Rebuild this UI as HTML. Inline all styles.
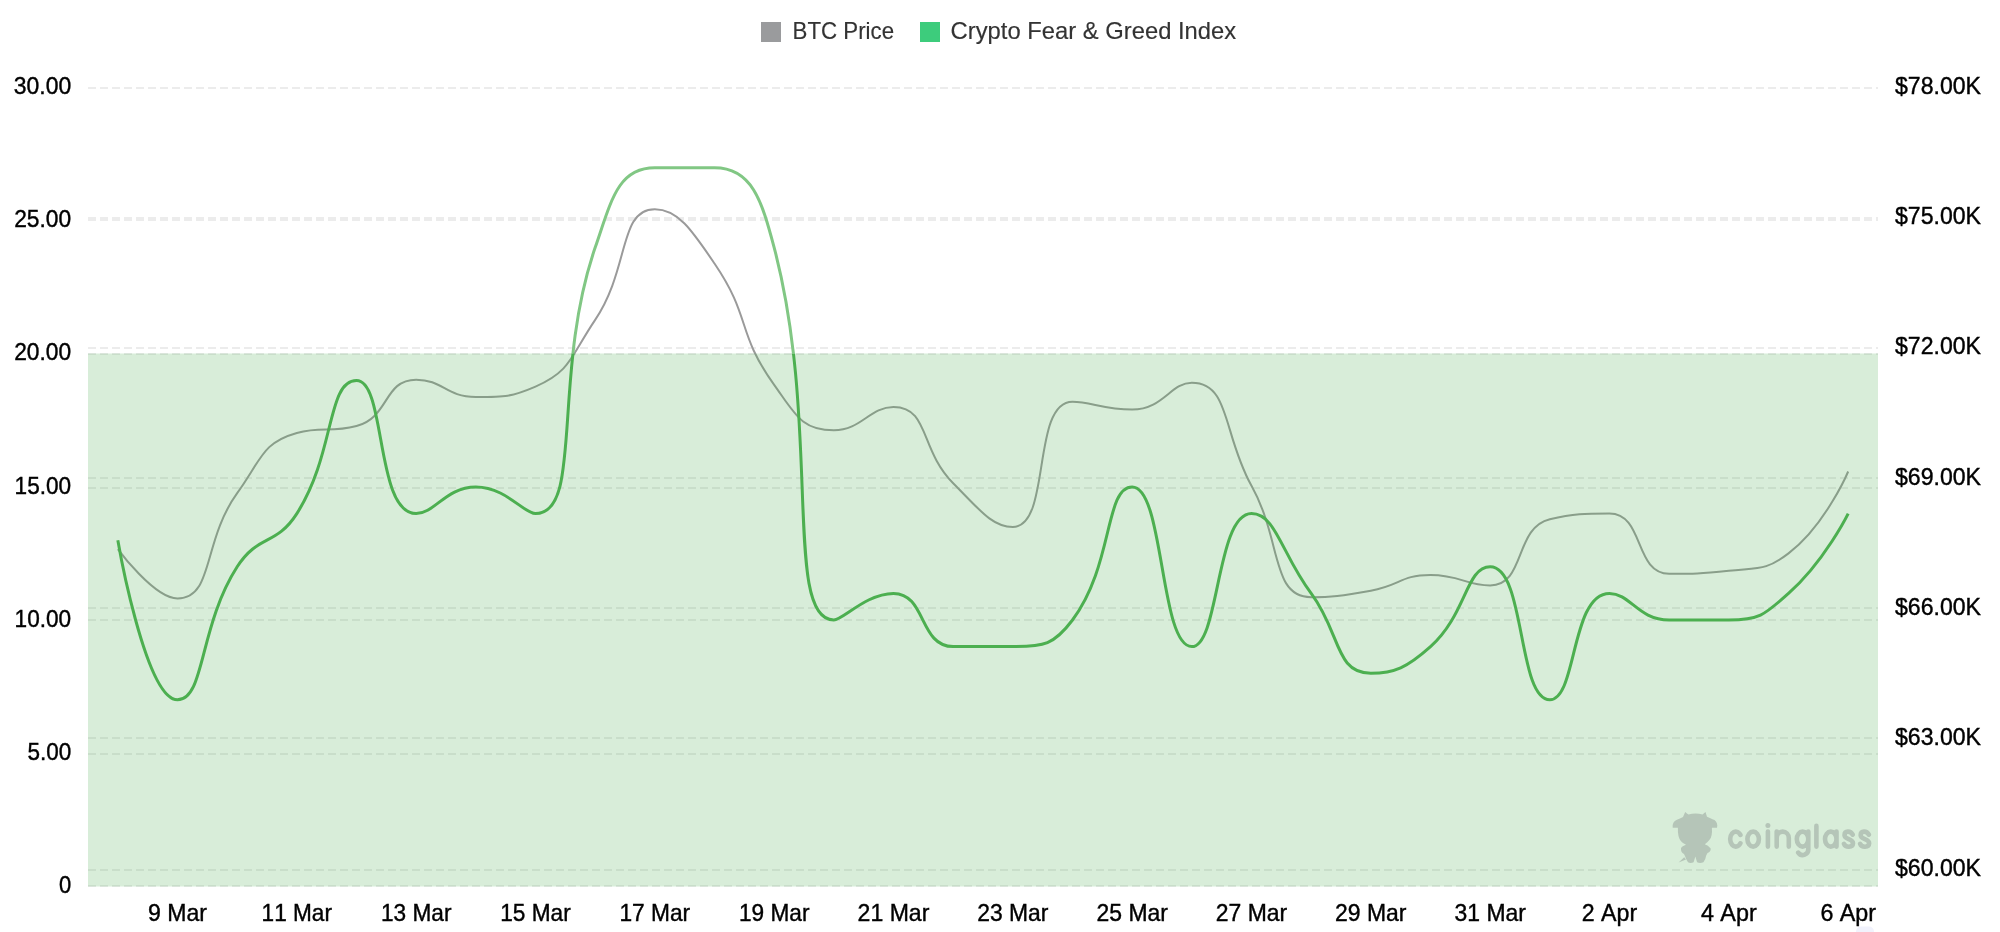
<!DOCTYPE html>
<html><head><meta charset="utf-8"><title>Crypto Fear &amp; Greed Index</title>
<style>
html,body{margin:0;padding:0;background:#fff;}
body{width:2000px;height:932px;overflow:hidden;}
svg{display:block;font-family:"Liberation Sans",sans-serif;will-change:transform;opacity:0.9999;}
text{font-kerning:none;}
</style></head><body>
<svg width="2000" height="932" viewBox="0 0 2000 932">
<defs>
<clipPath id="cin"><rect x="0" y="353.5" width="2000" height="600"/></clipPath>
<clipPath id="cout"><rect x="0" y="0" width="2000" height="353.5"/></clipPath>
</defs>
<rect width="2000" height="932" fill="#ffffff"/>
<g stroke="#ececec" stroke-width="2" stroke-dasharray="8 4" fill="none">
<line x1="88" x2="1878" y1="88.00" y2="88.00"/>
<line x1="88" x2="1878" y1="220.00" y2="220.00"/>
<line x1="88" x2="1878" y1="354.00" y2="354.00"/>
<line x1="88" x2="1878" y1="488.00" y2="488.00"/>
<line x1="88" x2="1878" y1="620.00" y2="620.00"/>
<line x1="88" x2="1878" y1="754.00" y2="754.00"/>
<line x1="88" x2="1878" y1="886.00" y2="886.00"/>
<line x1="88" x2="1878" y1="218.00" y2="218.00"/>
<line x1="88" x2="1878" y1="348.00" y2="348.00"/>
<line x1="88" x2="1878" y1="478.00" y2="478.00"/>
<line x1="88" x2="1878" y1="608.00" y2="608.00"/>
<line x1="88" x2="1878" y1="738.00" y2="738.00"/>
<line x1="88" x2="1878" y1="870.00" y2="870.00"/>
</g>
<path d="M117.83 549.07 C117.83 549.07 154.21 598.47 177.50 598.47 C213.88 598.47 202.08 541.84 237.17 493.17 C261.75 459.07 261.91 442.72 296.83 432.94 C321.58 426.00 330.08 432.94 356.50 426.00 C389.74 417.28 383.42 379.64 416.17 379.64 C443.09 379.64 445.62 396.97 475.83 396.97 C505.29 396.97 511.42 396.97 535.50 386.57 C571.09 371.20 570.34 356.72 595.17 319.84 C630.00 268.10 618.49 209.34 654.83 209.34 C678.16 209.34 692.22 230.74 714.50 263.50 C751.88 318.49 735.79 331.19 774.17 384.84 C795.46 414.61 801.65 430.34 833.83 430.34 C861.32 430.34 869.74 406.94 893.50 406.94 C929.40 406.94 919.35 449.18 953.17 483.20 C979.01 509.20 992.08 526.97 1012.83 526.97 C1051.74 526.97 1030.89 401.74 1072.50 401.74 C1090.55 401.74 1103.58 409.54 1132.17 409.54 C1163.25 409.54 1170.68 382.67 1191.83 382.67 C1230.35 382.67 1222.54 433.75 1251.50 485.80 C1282.21 541.00 1270.72 597.17 1311.17 597.17 C1330.38 597.17 1341.41 596.12 1370.83 590.67 C1401.07 585.07 1400.40 575.07 1430.50 575.07 C1460.06 575.07 1466.04 585.47 1490.17 585.47 C1525.70 585.47 1514.15 527.55 1549.83 519.17 C1573.81 513.54 1584.79 513.54 1609.50 513.54 C1644.46 513.54 1634.16 573.77 1669.17 573.77 C1693.83 573.77 1699.58 573.77 1728.83 570.74 C1759.25 567.58 1765.82 570.74 1788.50 553.40 C1825.49 525.13 1848.17 471.50 1848.17 471.50" fill="none" stroke="#9a9a9a" stroke-width="2" stroke-linejoin="round"/>
<rect x="88" y="353.5" width="1790" height="533" fill="rgba(76,175,80,0.22)"/>
<path d="M117.83 540.20 C117.83 540.20 145.34 699.80 177.50 699.80 C205.01 699.80 198.63 626.93 237.17 566.80 C258.30 533.83 275.70 546.57 296.83 513.60 C335.37 453.47 326.67 380.60 356.50 380.60 C386.33 380.60 374.96 513.60 416.17 513.60 C434.63 513.60 446.00 487.00 475.83 487.00 C505.67 487.00 523.97 513.60 535.50 513.60 C583.63 513.60 551.47 374.22 595.17 247.60 C611.14 201.32 617.51 167.80 654.83 167.80 C677.18 167.80 692.15 167.80 714.50 167.80 C751.82 167.80 761.70 200.35 774.17 247.60 C821.36 426.45 782.98 620.00 833.83 620.00 C842.64 620.00 866.67 593.40 893.50 593.40 C926.33 593.40 919.00 646.60 953.17 646.60 C978.67 646.60 984.35 646.60 1012.83 646.60 C1044.02 646.60 1054.04 644.70 1072.50 620.00 C1113.70 564.90 1104.66 487.00 1132.17 487.00 C1164.32 487.00 1159.68 646.60 1191.83 646.60 C1219.34 646.60 1216.06 513.60 1251.50 513.60 C1275.73 513.60 1281.33 553.50 1311.17 593.40 C1341.00 633.30 1334.79 673.20 1370.83 673.20 C1394.46 673.20 1406.87 667.67 1430.50 646.60 C1466.54 614.47 1465.94 566.80 1490.17 566.80 C1525.61 566.80 1517.35 699.80 1549.83 699.80 C1577.02 699.80 1570.64 593.40 1609.50 593.40 C1630.31 593.40 1637.98 620.00 1669.17 620.00 C1697.65 620.00 1700.35 620.00 1728.83 620.00 C1760.02 620.00 1764.87 614.47 1788.50 593.40 C1824.54 561.27 1848.17 513.60 1848.17 513.60" fill="none" stroke="#81c784" stroke-width="3" stroke-linejoin="round" clip-path="url(#cout)"/>
<path d="M117.83 540.20 C117.83 540.20 145.34 699.80 177.50 699.80 C205.01 699.80 198.63 626.93 237.17 566.80 C258.30 533.83 275.70 546.57 296.83 513.60 C335.37 453.47 326.67 380.60 356.50 380.60 C386.33 380.60 374.96 513.60 416.17 513.60 C434.63 513.60 446.00 487.00 475.83 487.00 C505.67 487.00 523.97 513.60 535.50 513.60 C583.63 513.60 551.47 374.22 595.17 247.60 C611.14 201.32 617.51 167.80 654.83 167.80 C677.18 167.80 692.15 167.80 714.50 167.80 C751.82 167.80 761.70 200.35 774.17 247.60 C821.36 426.45 782.98 620.00 833.83 620.00 C842.64 620.00 866.67 593.40 893.50 593.40 C926.33 593.40 919.00 646.60 953.17 646.60 C978.67 646.60 984.35 646.60 1012.83 646.60 C1044.02 646.60 1054.04 644.70 1072.50 620.00 C1113.70 564.90 1104.66 487.00 1132.17 487.00 C1164.32 487.00 1159.68 646.60 1191.83 646.60 C1219.34 646.60 1216.06 513.60 1251.50 513.60 C1275.73 513.60 1281.33 553.50 1311.17 593.40 C1341.00 633.30 1334.79 673.20 1370.83 673.20 C1394.46 673.20 1406.87 667.67 1430.50 646.60 C1466.54 614.47 1465.94 566.80 1490.17 566.80 C1525.61 566.80 1517.35 699.80 1549.83 699.80 C1577.02 699.80 1570.64 593.40 1609.50 593.40 C1630.31 593.40 1637.98 620.00 1669.17 620.00 C1697.65 620.00 1700.35 620.00 1728.83 620.00 C1760.02 620.00 1764.87 614.47 1788.50 593.40 C1824.54 561.27 1848.17 513.60 1848.17 513.60" fill="none" stroke="#4caf50" stroke-width="3" stroke-linejoin="round" clip-path="url(#cin)"/>
<rect x="761" y="22" width="20" height="20" fill="#9a9b9d"/>
<text x="792.6" y="38.7" textLength="101.5" lengthAdjust="spacingAndGlyphs" fill="#333" stroke="#333" stroke-width="0.15" font-size="23.4">BTC Price</text>
<rect x="920" y="22" width="20" height="20" fill="#3dcc7c"/>
<text x="950.6" y="38.7" textLength="285.6" lengthAdjust="spacingAndGlyphs" fill="#333" stroke="#333" stroke-width="0.15" font-size="23.4">Crypto Fear &amp; Greed Index</text>
<text x="71.2" y="94.0" text-anchor="end" textLength="57.4" lengthAdjust="spacingAndGlyphs" fill="#000" stroke="#000" stroke-width="0.40" font-size="23.4">30.00</text>
<text x="71.2" y="227.2" text-anchor="end" textLength="57.0" lengthAdjust="spacingAndGlyphs" fill="#000" stroke="#000" stroke-width="0.40" font-size="23.4">25.00</text>
<text x="71.2" y="360.3" text-anchor="end" textLength="57.0" lengthAdjust="spacingAndGlyphs" fill="#000" stroke="#000" stroke-width="0.40" font-size="23.4">20.00</text>
<text x="71.2" y="493.5" text-anchor="end" textLength="56.6" lengthAdjust="spacingAndGlyphs" fill="#000" stroke="#000" stroke-width="0.40" font-size="23.4">15.00</text>
<text x="71.2" y="626.7" text-anchor="end" textLength="56.6" lengthAdjust="spacingAndGlyphs" fill="#000" stroke="#000" stroke-width="0.40" font-size="23.4">10.00</text>
<text x="71.2" y="759.8" text-anchor="end" textLength="43.8" lengthAdjust="spacingAndGlyphs" fill="#000" stroke="#000" stroke-width="0.40" font-size="23.4">5.00</text>
<text x="71.2" y="893.0" text-anchor="end" textLength="12.2" lengthAdjust="spacingAndGlyphs" fill="#000" stroke="#000" stroke-width="0.40" font-size="23.4">0</text>
<text x="1895.0" y="93.8" textLength="86.0" lengthAdjust="spacingAndGlyphs" fill="#000" stroke="#000" stroke-width="0.40" font-size="23.4">$78.00K</text>
<text x="1895.0" y="224.1" textLength="86.0" lengthAdjust="spacingAndGlyphs" fill="#000" stroke="#000" stroke-width="0.40" font-size="23.4">$75.00K</text>
<text x="1895.0" y="354.4" textLength="86.0" lengthAdjust="spacingAndGlyphs" fill="#000" stroke="#000" stroke-width="0.40" font-size="23.4">$72.00K</text>
<text x="1895.0" y="484.6" textLength="86.0" lengthAdjust="spacingAndGlyphs" fill="#000" stroke="#000" stroke-width="0.40" font-size="23.4">$69.00K</text>
<text x="1895.0" y="614.9" textLength="86.0" lengthAdjust="spacingAndGlyphs" fill="#000" stroke="#000" stroke-width="0.40" font-size="23.4">$66.00K</text>
<text x="1895.0" y="745.2" textLength="86.0" lengthAdjust="spacingAndGlyphs" fill="#000" stroke="#000" stroke-width="0.40" font-size="23.4">$63.00K</text>
<text x="1895.0" y="875.5" textLength="86.0" lengthAdjust="spacingAndGlyphs" fill="#000" stroke="#000" stroke-width="0.40" font-size="23.4">$60.00K</text>
<text x="177.5" y="921.4" text-anchor="middle" textLength="59.0" lengthAdjust="spacingAndGlyphs" fill="#000" stroke="#000" stroke-width="0.40" font-size="23.4">9 Mar</text>
<text x="296.8" y="921.4" text-anchor="middle" textLength="70.4" lengthAdjust="spacingAndGlyphs" fill="#000" stroke="#000" stroke-width="0.40" font-size="23.4">11 Mar</text>
<text x="416.2" y="921.4" text-anchor="middle" textLength="70.5" lengthAdjust="spacingAndGlyphs" fill="#000" stroke="#000" stroke-width="0.40" font-size="23.4">13 Mar</text>
<text x="535.5" y="921.4" text-anchor="middle" textLength="70.5" lengthAdjust="spacingAndGlyphs" fill="#000" stroke="#000" stroke-width="0.40" font-size="23.4">15 Mar</text>
<text x="654.8" y="921.4" text-anchor="middle" textLength="70.8" lengthAdjust="spacingAndGlyphs" fill="#000" stroke="#000" stroke-width="0.40" font-size="23.4">17 Mar</text>
<text x="774.2" y="921.4" text-anchor="middle" textLength="70.5" lengthAdjust="spacingAndGlyphs" fill="#000" stroke="#000" stroke-width="0.40" font-size="23.4">19 Mar</text>
<text x="893.5" y="921.4" text-anchor="middle" textLength="71.8" lengthAdjust="spacingAndGlyphs" fill="#000" stroke="#000" stroke-width="0.40" font-size="23.4">21 Mar</text>
<text x="1012.8" y="921.4" text-anchor="middle" textLength="71.2" lengthAdjust="spacingAndGlyphs" fill="#000" stroke="#000" stroke-width="0.40" font-size="23.4">23 Mar</text>
<text x="1132.2" y="921.4" text-anchor="middle" textLength="71.4" lengthAdjust="spacingAndGlyphs" fill="#000" stroke="#000" stroke-width="0.40" font-size="23.4">25 Mar</text>
<text x="1251.5" y="921.4" text-anchor="middle" textLength="71.4" lengthAdjust="spacingAndGlyphs" fill="#000" stroke="#000" stroke-width="0.40" font-size="23.4">27 Mar</text>
<text x="1370.8" y="921.4" text-anchor="middle" textLength="71.4" lengthAdjust="spacingAndGlyphs" fill="#000" stroke="#000" stroke-width="0.40" font-size="23.4">29 Mar</text>
<text x="1490.2" y="921.4" text-anchor="middle" textLength="71.4" lengthAdjust="spacingAndGlyphs" fill="#000" stroke="#000" stroke-width="0.40" font-size="23.4">31 Mar</text>
<text x="1609.5" y="921.4" text-anchor="middle" textLength="55.4" lengthAdjust="spacingAndGlyphs" fill="#000" stroke="#000" stroke-width="0.40" font-size="23.4">2 Apr</text>
<text x="1728.8" y="921.4" text-anchor="middle" textLength="55.8" lengthAdjust="spacingAndGlyphs" fill="#000" stroke="#000" stroke-width="0.40" font-size="23.4">4 Apr</text>
<text x="1848.2" y="921.4" text-anchor="middle" textLength="55.6" lengthAdjust="spacingAndGlyphs" fill="#000" stroke="#000" stroke-width="0.40" font-size="23.4">6 Apr</text>
<g fill="#b5c5b8" transform="translate(1672,812)">
<path d="M11 5 L13.2 0 Q15 1.5 16.5 2.5 Q23.5 0.5 30.5 2.5 L33.5 0 L35 4.7 Q38 6 40.5 7.3 Q45 8.5 45.3 13.5 L45 15.7 L39.9 15.7 Q40.5 24 37.7 27.5 Q35.5 30.5 32.8 32.3 Q36 33 38.7 36.5 Q39 39.5 35.5 41 L34.2 43.5 Q33.5 48 31.4 50.3 Q28 51.5 25.1 50.3 Q24 47 23.4 44.6 Q22.5 47.5 21.6 50.3 Q18.5 51.5 16 50.3 Q14 47.5 13.2 44.6 L12 42 Q8.5 40.5 9 36 Q10 34 14 32.8 Q10.5 31 9 29.3 Q5.5 25 5.9 15.7 L0.7 15.7 Q0 9.5 4.9 7.7 Q8 6.5 11 5 Z"/>
<path d="M6.6 50.6 L12.2 45.2 L14 47.6 Z"/>
</g>
<path d="M1740.4 834.9 A5.6 7.50 0 1 0 1740.4 843.3 M1747.4 839.10 A5.75 7.50 0 1 0 1758.9 839.10 A5.75 7.50 0 1 0 1747.4 839.10 Z M1767.9 831.60 V846.60 M1776.7 846.60 V831.60 M1776.7 838 A6.05 6.4 0 0 1 1788.8 838 V846.60 M1796.8 839.10 A5.75 7.50 0 1 0 1808.3 839.10 A5.75 7.50 0 1 0 1796.8 839.10 Z M1808.3 831.60 V848.6 A5.6 5.8 0 0 1 1798.2 852.6 M1816.4 825.9 V846.60 M1825 839.10 A5.75 7.50 0 1 0 1836.5 839.10 A5.75 7.50 0 1 0 1825 839.10 Z M1836.5 831.60 V846.60 M1852.70 834.6 C1850.60 830.6 1844.60 830.4 1844.50 835.2 C1844.60 839.8 1853.00 838.4 1853.00 843.2 C1852.80 847.8 1845.60 847.8 1844.00 843.8 M1868.85 834.6 C1866.75 830.6 1860.75 830.4 1860.65 835.2 C1860.75 839.8 1869.15 838.4 1869.15 843.2 C1868.95 847.8 1861.75 847.8 1860.15 843.8" fill="none" stroke="#b5c5b8" stroke-width="4.6" stroke-linecap="round" stroke-linejoin="round"/><circle cx="1767.9" cy="825.4" r="2.5" fill="#b5c5b8"/>
<rect x="1856" y="926.5" width="18" height="12" rx="5" fill="#f1f2fc"/>
</svg>
</body></html>
